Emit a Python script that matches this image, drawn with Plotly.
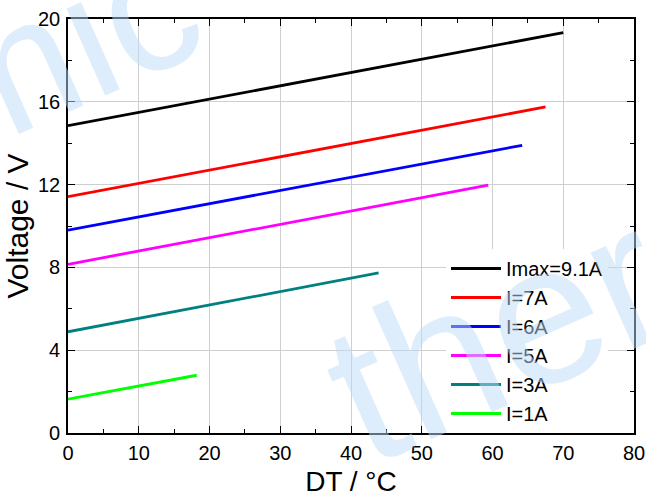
import plotly.graph_objects as go

# Data (start and end of each straight line)
names = ["Imax=9.1A", "I=7A", "I=6A", "I=5A", "I=3A", "I=1A"]
colors = ["#000000", "#ff0000", "#0000ff", "#ff00ff", "#008080", "#00ff00"]
dt_start = [0, 0, 0, 0, 0, 0]
dt_end = [70.0, 67.5, 64.2, 59.4, 43.9, 18.2]
v_start = [14.85, 11.42, 9.8, 8.15, 4.89, 1.64]
v_end = [19.34, 15.75, 13.9, 11.97, 7.73, 2.79]

x_ticks = [0, 10, 20, 30, 40, 50, 60, 70, 80]
y_ticks = [0, 4, 8, 12, 16, 20]

W, H = 646, 497
L, R, T, B = 68, 12, 19, 64
pw, ph = W - L - R, H - T - B

def px2paper(px, py):
    return (px - L) / pw, (H - B - py) / ph

fig = go.Figure()
for n, c, x0, x1, y0, y1 in zip(names, colors, dt_start, dt_end, v_start, v_end):
    fig.add_trace(go.Scatter(x=[x0, x1], y=[y0, y1], mode="lines", name=n,
                             line=dict(color=c, width=2.8)))

font_family = "Liberation Sans, Arial, sans-serif"
wm_color = "rgba(190,220,250,0.5)"
ax1, ay1 = px2paper(572, 300)
ax2, ay2 = px2paper(60, 48)
annotations = [
    dict(text="therm", x=ax1, y=ay1, xref="paper", yref="paper", showarrow=False,
         textangle=-24, font=dict(family=font_family, size=200, color=wm_color),
         xanchor="center", yanchor="middle"),
    dict(text="mic", x=ax2, y=ay2, xref="paper", yref="paper", showarrow=False,
         textangle=-24, font=dict(family=font_family, size=180, color=wm_color),
         xanchor="center", yanchor="middle"),
]

axis_common = dict(
    showline=True, linecolor="black", linewidth=1.6, mirror="allticks",
    ticks="inside", ticklen=7, tickwidth=1.2, tickcolor="black",
    showgrid=True, gridcolor="#cfcfcf", gridwidth=1, zeroline=False,
    tickfont=dict(family=font_family, size=20, color="black"),
    automargin=False,
)
minor_common = dict(ticks="inside", ticklen=4, tickwidth=1.2, tickcolor="black", showgrid=False)

lx, ly = px2paper(446, 249)
fig.update_layout(
    width=W, height=H,
    margin=dict(l=L, r=R, t=T, b=B, autoexpand=False),
    paper_bgcolor="white", plot_bgcolor="white",
    font=dict(family=font_family, color="black"),
    xaxis=dict(range=[0, 80], tickvals=x_ticks,
               title=dict(text="DT / °C", font=dict(size=28), standoff=9),
               ticklabelstandoff=1, minor=dict(minor_common, dtick=5), **axis_common),
    yaxis=dict(range=[0, 20], tickvals=y_ticks,
               title=dict(text="Voltage / V", font=dict(size=30), standoff=0),
               ticklabelstandoff=2, minor=dict(minor_common, dtick=2), **axis_common),
    legend=dict(x=lx, y=ly, xanchor="left", yanchor="top", bgcolor="white",
                font=dict(family=font_family, size=20), tracegroupgap=0, itemwidth=50),
    annotations=annotations,
    showlegend=True,
)

fig.write_html("out.html", config={"displayModeBar": False},
               post_script="document.body.style.margin='0px';document.body.style.overflow='hidden';")
